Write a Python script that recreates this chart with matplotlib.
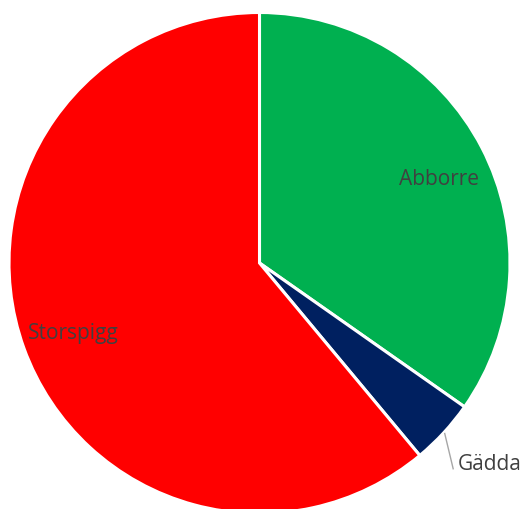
import numpy as np
import matplotlib
matplotlib.use("Agg")
import matplotlib.pyplot as plt

# Catch per species
species = ["Abborre", "Gädda", "Storspigg"]
counts = [33, 4, 58]
colors = ["#00B050", "#002060", "#FF0000"]

plt.rcParams["font.family"] = ["Open Sans", "DejaVu Sans"]
text_color = "#404040"
fs = 15

W, H, DPI = 521, 510, 100
fig = plt.figure(figsize=(W / DPI, H / DPI), dpi=DPI)
cx, cy, R = 259.5, 510 - 264, 250.5
ax = fig.add_axes([(cx - R) / W, (cy - R) / H, 2 * R / W, 2 * R / H])

wedges, _ = ax.pie(
    counts,
    colors=colors,
    startangle=90,
    counterclock=False,
    radius=1.0,
    wedgeprops=dict(edgecolor="white", linewidth=2.2),
)
ax.set_xlim(-1, 1)
ax.set_ylim(-1, 1)
ax.set_aspect("equal")
ax.axis("off")

def mid_angle(w):
    return np.deg2rad((w.theta1 + w.theta2) / 2)

# Inside labels, placed along each slice's bisector
nudge = {"Abborre": (0.014, -0.016), "Storspigg": (0.0, 0.0)}
for w, name in zip(wedges, species):
    if name == "Gädda":
        continue
    a = mid_angle(w)
    r = 0.79
    dx, dy = nudge[name]
    ax.text(r * np.cos(a) + dx, r * np.sin(a) + dy, name, ha="center",
            va="center_baseline", fontsize=fs, color=text_color)

# Outside label with leader line for the small slice
w = wedges[1]
a = mid_angle(w)
p0 = (1.005 * np.cos(a), 1.005 * np.sin(a))
a2 = a - np.deg2rad(4.1)
p1 = (1.128 * np.cos(a2), 1.128 * np.sin(a2))
ax.plot([p0[0], p1[0]], [p0[1], p1[1]], color="#A6A6A6", lw=1.0,
        clip_on=False)
ax.text(p1[0] + 0.02, p1[1] + 0.03, species[1], ha="left",
        va="center_baseline", fontsize=fs, color=text_color, clip_on=False)

fig.savefig("out.png", dpi=DPI, facecolor="white")
